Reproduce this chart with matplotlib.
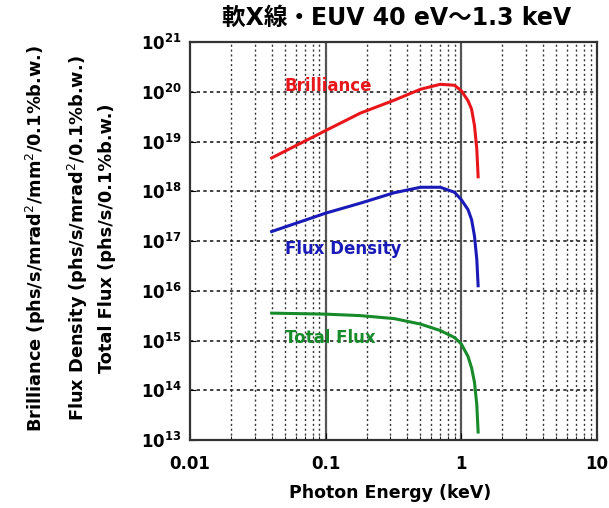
import numpy as np
import matplotlib
matplotlib.use("Agg")
import matplotlib.pyplot as plt
from matplotlib.ticker import FixedLocator, FuncFormatter

plt.rcParams['font.family'] = ['DejaVu Sans', 'Noto Sans CJK JP']

energy_keV = [0.04, 0.1, 0.18, 0.32, 0.5, 0.7, 0.89, 1.0, 1.12, 1.19, 1.25, 1.30, 1.33]
brilliance_log = [18.67, 19.22, 19.57, 19.83, 20.05, 20.15, 20.13, 20.02, 19.82, 19.65, 19.32, 18.85, 18.29]
flux_density_log = [17.19, 17.56, 17.76, 17.97, 18.08, 18.08, 17.98, 17.83, 17.63, 17.43, 17.10, 16.63, 16.10]
total_flux_log = [15.55, 15.53, 15.50, 15.44, 15.33, 15.20, 15.06, 14.93, 14.68, 14.45, 14.16, 13.71, 13.16]

x_ticks = [0.01, 0.1, 1, 10]
x_tick_labels = ["0.01", "0.1", "1", "10"]
y_exponents = [13, 14, 15, 16, 17, 18, 19, 20, 21]

title = "軟X線・EUV 40 eV～1.3 keV"
xlabel = "Photon Energy (keV)"
ylabel_lines = ["Brilliance (phs/s/mrad$^2$/mm$^2$/0.1%b.w.)",
                "Flux Density (phs/s/mrad$^2$/0.1%b.w.)",
                "Total Flux (phs/s/0.1%b.w.)"]

fig = plt.figure(figsize=(6.09, 5.08), dpi=100)
ax = fig.add_axes([190/609, 1-440/508, (597-190)/609, (440-42)/508])

ax.set_xscale('log')
ax.set_yscale('log')
ax.set_xlim(0.01, 10)
ax.set_ylim(1e13, 1e21)

E = np.array(energy_keV)
ax.plot(E, 10**np.array(brilliance_log), color='#e8161b', lw=2.2, solid_joinstyle='round')
ax.plot(E, 10**np.array(flux_density_log), color='#1a1ab8', lw=2.2, solid_joinstyle='round')
ax.plot(E, 10**np.array(total_flux_log), color='#178a2a', lw=2.2, solid_joinstyle='round')

# grid
for xv in [0.1, 1]:
    ax.axvline(xv, color='#555555', lw=1.6, zorder=0)
minor_x = [m * 10**d for d in [-2, -1, 0] for m in range(2, 10)]
for xv in minor_x:
    ax.axvline(xv, color='#333333', lw=1.0, ls=(0, (1.5, 2)), zorder=0)
for e in y_exponents[1:-1]:
    ax.axhline(10**e, color='#222222', lw=1.2, ls=(0, (2, 2)), zorder=0)

ax.xaxis.set_major_locator(FixedLocator(x_ticks))
ax.xaxis.set_major_formatter(FuncFormatter(lambda v, p: x_tick_labels[x_ticks.index(v)] if v in x_ticks else ""))
ax.xaxis.set_minor_locator(FixedLocator(minor_x))
ax.xaxis.set_minor_formatter(FuncFormatter(lambda v, p: ""))
ax.yaxis.set_major_locator(FixedLocator([10.0**e for e in y_exponents]))
ax.yaxis.set_major_formatter(FuncFormatter(lambda v, p: r"$\mathbf{10^{%d}}$" % round(np.log10(v))))
ax.yaxis.set_minor_locator(FixedLocator([]))
ax.tick_params(axis='both', which='both', direction='in', labelsize=12)
ax.tick_params(axis='x', which='major', length=5, pad=11)
ax.tick_params(axis='x', which='minor', length=3)
ax.tick_params(axis='y', which='major', length=4, pad=6)
for lab in ax.get_xticklabels():
    lab.set_fontweight('bold')
for s in ax.spines.values():
    s.set_linewidth(1.6)
    s.set_color('#333333')

ax.text(0.05, 1.3e20, "Brilliance", color='#e8161b', fontsize=12, fontweight='bold', ha='left', va='center')
ax.text(0.05, 7.0e16, "Flux Density", color='#1a1ab8', fontsize=12, fontweight='bold', ha='left', va='center')
ax.text(0.05, 1.1e15, "Total Flux", color='#178a2a', fontsize=12, fontweight='bold', ha='left', va='center')

fig.text(397/609, 1-18/508, title, ha='center', va='center', fontsize=17, fontweight='bold',
         family=['DejaVu Sans', 'Noto Sans CJK JP'])
fig.text(390/609, 1-493/508, xlabel, ha='center', va='center', fontsize=12.5, fontweight='bold')
for xp, txt in zip([36, 78, 107], ylabel_lines):
    fig.text(xp/609, 1-238/508, txt, rotation=90, ha='center', va='center', fontsize=12.8, fontweight='bold')

fig.savefig("out.png", dpi=100)
